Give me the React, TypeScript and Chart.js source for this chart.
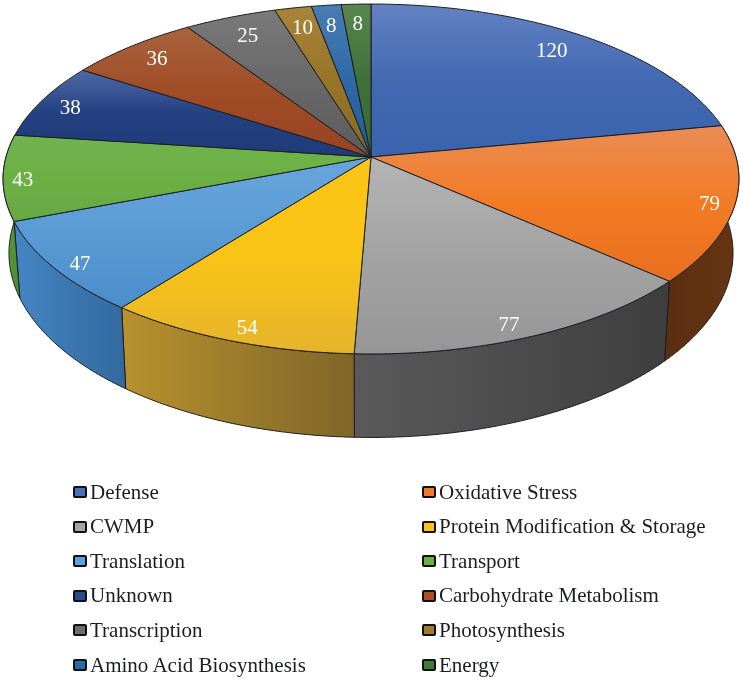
import React, { useEffect, useRef } from "react";
import { Chart, registerables } from "chart.js";

Chart.register(...registerables);

const categories = [
  "Defense", "Oxidative Stress", "CWMP", "Protein Modification & Storage",
  "Translation", "Transport", "Unknown", "Carbohydrate Metabolism",
  "Transcription", "Photosynthesis", "Amino Acid Biosynthesis", "Energy",
];
const values = [120, 79, 77, 54, 47, 43, 38, 36, 25, 10, 8, 8];

// top-face vertical gradient per slice: [light, base, end]
const faceColors = [
  ["#6382c2", "#4269b2", "#3a64ae"],
  ["#ea8c55", "#f27b24", "#e86f1f"],
  ["#b4b4b4", "#a3a3a3", "#969696"],
  ["#fdc516", "#fac416", "#e5b42c"],
  ["#68a5db", "#5b9bd5", "#4a8dcb"],
  ["#6fb34e", "#6cb044", "#66a844"],
  ["#5069a6", "#234080", "#1f3b78"],
  ["#a8643e", "#a04c26", "#984422"],
  ["#7a7a7a", "#686868", "#5c5c5c"],
  ["#a8853a", "#977428", "#8a6a20"],
  ["#4a7cb4", "#2f6aa6", "#1f5c96"],
  ["#58864e", "#40703a", "#386a30"],
];
// side wall horizontal gradient per slice: [left, right]
const wallColors: Record<number, string[]> = {
  1: ["#5c2e10", "#653513"],
  2: ["#5a5a5a", "#3e3e3e"],
  3: ["#b8922e", "#7f6628"],
  4: ["#4485c4", "#33699f"],
  5: ["#5a9e3c", "#4a8a30"],
};
const swatchColors = [
  "#4a70ba", "#ee7a2c", "#a5a5a5", "#fcc316", "#5ba0dc", "#6cb044",
  "#2a4a8c", "#a84e28", "#6e6e6e", "#a07c2a", "#2a6aa8", "#427a3a",
];
// where each value label sits: fraction of the radius, then a small nudge in pixels
const labelRadii = [0.77, 0.94, 0.9, 0.85, 0.97, 0.95, 0.87, 0.81, 0.78, 0.77, 0.78, 0.8];
const labelNudges = [
  [14, -10], [-3, 3], [-6, 9], [-5, 19], [16, 0], [1, 4],
  [-13, 1], [-17, -6], [-11, -9], [-7, -11], [-4, -9], [-1, -7],
];

// camera model of the disc
const CX = 371, CY = 157, AX = 365, AY = 172.2, PERSP = 0.1257, DEPTH = 73, TAPER = 0.984;
const LINE = "#1a1d22";

function project(angle: number, r = 1) {
  const u = Math.cos(angle) * r, v = Math.sin(angle) * r;
  const w = 1 - PERSP * v;
  return { x: CX + (AX * u) / w, y: CY + (AY * v) / w, w };
}
function lower(angle: number) {
  const p = project(angle);
  return { x: CX + (p.x - CX) * TAPER, y: p.y + DEPTH / p.w };
}
function sample(a0: number, a1: number) {
  const n = Math.max(4, Math.ceil((a1 - a0) / 0.01));
  return Array.from({ length: n + 1 }, (_, i) => a0 + ((a1 - a0) * i) / n);
}

const pie3d = {
  id: "pie3d",
  beforeDatasetDraw(chart: any) {
    const ctx: CanvasRenderingContext2D = chart.ctx;
    const arcs = chart.getDatasetMeta(0).data;
    ctx.save();
    ctx.lineJoin = "round";
    ctx.lineWidth = 1;
    ctx.strokeStyle = LINE;

    arcs.forEach((arc: any, i: number) => {
      const walls = wallColors[i];
      if (!walls) return;
      const as = sample(arc.startAngle, arc.endAngle);
      const top = as.map((a) => project(a));
      const bot = as.map((a) => lower(a));
      const xs = [...top, ...bot].map((p) => p.x);
      const g = ctx.createLinearGradient(Math.min(...xs), 0, Math.max(...xs), 0);
      g.addColorStop(0, walls[0]);
      g.addColorStop(1, walls[1]);
      ctx.beginPath();
      top.forEach((p, k) => (k ? ctx.lineTo(p.x, p.y) : ctx.moveTo(p.x, p.y)));
      bot.reverse().forEach((p) => ctx.lineTo(p.x, p.y));
      ctx.closePath();
      ctx.fillStyle = g;
      ctx.fill();
      ctx.stroke();
    });

    arcs.forEach((arc: any, i: number) => {
      const pts = sample(arc.startAngle, arc.endAngle).map((a) => project(a));
      const ys = [CY, ...pts.map((p) => p.y)];
      const g = ctx.createLinearGradient(0, Math.min(...ys), 0, Math.max(...ys));
      const c = faceColors[i];
      g.addColorStop(0, c[0]);
      g.addColorStop(0.5, c[1]);
      g.addColorStop(1, c[2]);
      ctx.beginPath();
      ctx.moveTo(CX, CY);
      pts.forEach((p) => ctx.lineTo(p.x, p.y));
      ctx.closePath();
      ctx.fillStyle = g;
      ctx.fill();
      ctx.stroke();
    });

    ctx.fillStyle = "#ffffff";
    ctx.font = '21px "Liberation Serif"';
    ctx.textAlign = "center";
    ctx.textBaseline = "middle";
    arcs.forEach((arc: any, i: number) => {
      const p = project((arc.startAngle + arc.endAngle) / 2, labelRadii[i]);
      ctx.fillText(String(values[i]), p.x + labelNudges[i][0], p.y + labelNudges[i][1]);
    });
    ctx.restore();
    return false;
  },
};

export default function App() {
  const ref = useRef<HTMLCanvasElement>(null);
  useEffect(() => {
    const chart = new Chart(ref.current!, {
      type: "pie",
      data: { labels: categories, datasets: [{ data: values, backgroundColor: swatchColors }] },
      options: {
        animation: false,
        responsive: false,
        plugins: { legend: { display: false }, tooltip: { enabled: false } },
      },
      plugins: [pie3d],
    } as any);
    return () => chart.destroy();
  }, []);
  return (
    <div style={{ position: "absolute", left: 0, top: 0, width: 743, height: 681, background: "#fff", overflow: "hidden", filter: "blur(0.4px)" }}>
      <canvas ref={ref} width={743} height={681} style={{ display: "block" }} />
      {categories.map((name, i) => {
        const left = i % 2 === 0 ? 73 : 422;
        const top = 475 + Math.floor(i / 2) * 34.6;
        return (
          <div key={name} style={{ position: "absolute", left, top, height: 34, display: "flex", alignItems: "center", whiteSpace: "nowrap", font: '21px "Liberation Serif"', color: "#1c1c28" }}>
            <span style={{ width: 14, height: 12, boxSizing: "border-box", border: "2.5px solid #111", borderRadius: 2, background: swatchColors[i], marginRight: 3 }} />
            {name}
          </div>
        );
      })}
    </div>
  );
}
